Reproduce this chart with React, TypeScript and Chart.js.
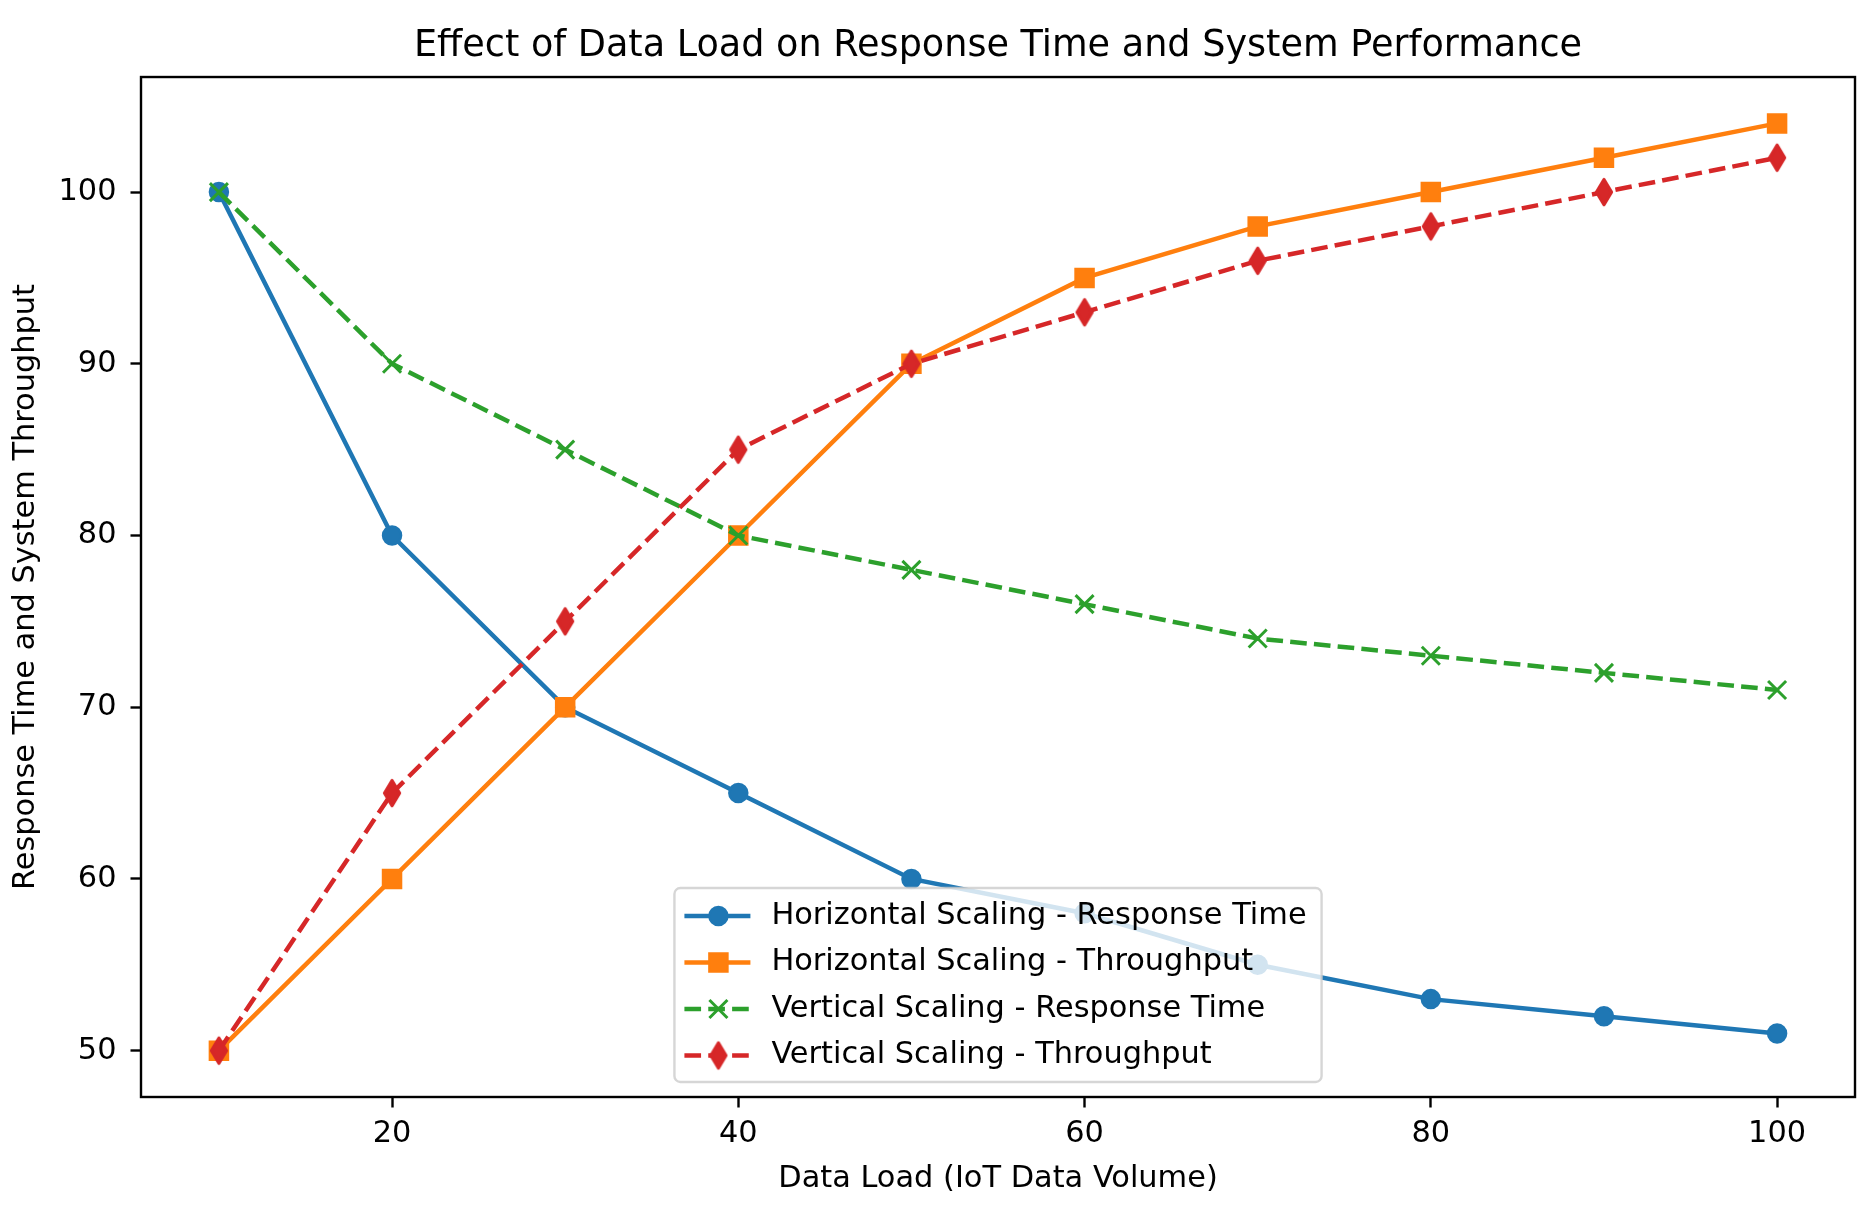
import React, { useEffect, useRef } from 'react';
import Chart from 'chart.js/auto';

// ---- data ----
const dataLoad = [10, 20, 30, 40, 50, 60, 70, 80, 90, 100];
const horizontalResponse = [100, 80, 70, 65, 60, 58, 55, 53, 52, 51];
const horizontalThroughput = [50, 60, 70, 80, 90, 95, 98, 100, 102, 104];
const verticalResponse = [100, 90, 85, 80, 78, 76, 74, 73, 72, 71];
const verticalThroughput = [50, 65, 75, 85, 90, 93, 96, 98, 100, 102];
const seriesLabels = [
  'Horizontal Scaling - Response Time',
  'Horizontal Scaling - Throughput',
  'Vertical Scaling - Response Time',
  'Vertical Scaling - Throughput',
];
const xTicks = [20, 40, 60, 80, 100];
const yTicks = [50, 60, 70, 80, 90, 100];
const titleText = 'Effect of Data Load on Response Time and System Performance';
const xTitle = 'Data Load (IoT Data Volume)';
const yTitle = 'Response Time and System Throughput';

const FAMILY = '"DejaVu Sans", Verdana, sans-serif';
const FS = 30.4;
const TITLE_FS = 36.6;
const DASH = [16.65, 7.2];

function makeThinDiamond(color: string) {
  const c = document.createElement('canvas');
  c.width = 26;
  c.height = 34;
  const g = c.getContext('2d')!;
  const cx = 13, cy = 17, hh = 12.73, hw = 7.64;
  g.beginPath();
  g.moveTo(cx, cy - hh);
  g.lineTo(cx + hw, cy);
  g.lineTo(cx, cy + hh);
  g.lineTo(cx - hw, cy);
  g.closePath();
  g.fillStyle = color;
  g.fill();
  g.lineWidth = 3;
  g.lineJoin = 'round';
  g.strokeStyle = color;
  g.stroke();
  return c;
}

function padRange(vals: number[]) {
  const mn = Math.min(...vals), mx = Math.max(...vals);
  const m = (mx - mn) * 0.05;
  return [mn - m, mx + m];
}

export default function App() {
  const ref = useRef<HTMLCanvasElement | null>(null);

  useEffect(() => {
    const canvas = ref.current;
    if (!canvas) return;
    const diamond = makeThinDiamond('#d62728');
    const styles: any[] = [
      { color: '#1f77b4', dash: [], marker: 'circle', radius: 9, bw: 2.5 },
      { color: '#ff7f0e', dash: [], marker: 'rect', radius: 12.73, bw: 2.5 },
      { color: '#2ca02c', dash: DASH, marker: 'crossRot', radius: 12.73, bw: 3 },
      { color: '#d62728', dash: DASH, marker: diamond, radius: 10, bw: 0 },
    ];
    const seriesValues = [horizontalResponse, horizontalThroughput, verticalResponse, verticalThroughput];

    const [xMin, xMax] = padRange(dataLoad);
    const [yMin, yMax] = padRange(seriesValues.flat());

    const drawMarker = (ctx: CanvasRenderingContext2D, st: any, x: number, y: number) => {
      ctx.save();
      ctx.setLineDash([]);
      ctx.fillStyle = st.color;
      ctx.strokeStyle = st.color;
      ctx.lineWidth = st.bw;
      if (st.marker === 'circle') {
        ctx.beginPath();
        ctx.arc(x, y, st.radius, 0, Math.PI * 2);
        ctx.fill();
        ctx.stroke();
      } else if (st.marker === 'rect') {
        const s = st.radius * Math.SQRT1_2;
        ctx.beginPath();
        ctx.rect(x - s, y - s, 2 * s, 2 * s);
        ctx.fill();
        ctx.stroke();
      } else if (st.marker === 'crossRot') {
        const s = st.radius * Math.SQRT1_2;
        ctx.beginPath();
        ctx.moveTo(x - s, y - s);
        ctx.lineTo(x + s, y + s);
        ctx.moveTo(x - s, y + s);
        ctx.lineTo(x + s, y - s);
        ctx.stroke();
      } else {
        const img = st.marker as HTMLCanvasElement;
        ctx.drawImage(img, x - img.width / 2, y - img.height / 2);
      }
      ctx.restore();
    };

    const framePlugin = {
      id: 'mplFrameLegend',
      afterDatasetsDraw(chart: any) {
        const ctx: CanvasRenderingContext2D = chart.ctx;
        const a = chart.chartArea;
        ctx.save();
        ctx.lineWidth = 2.4;
        ctx.strokeStyle = '#000';
        ctx.setLineDash([]);
        ctx.strokeRect(a.left, a.top, a.right - a.left, a.bottom - a.top);

        // legend
        ctx.font = `${FS}px ${FAMILY}`;
        const textW = Math.max(...seriesLabels.map((l) => ctx.measureText(l).width));
        const w = 97 + textW + 15;
        const h = 194;
        const cx = (a.left + a.right) / 2;
        const x = cx - w / 2;
        const y = a.bottom - 15 - h;
        ctx.beginPath();
        (ctx as any).roundRect(x, y, w, h, 6);
        ctx.fillStyle = 'rgba(255,255,255,0.8)';
        ctx.fill();
        ctx.lineWidth = 2.4;
        ctx.strokeStyle = 'rgba(204,204,204,0.8)';
        ctx.stroke();

        chart.data.datasets.forEach((ds: any, i: number) => {
          const st = styles[i];
          const ry = y + 28 + i * 46.5;
          ctx.save();
          ctx.strokeStyle = st.color;
          ctx.lineWidth = 4.5;
          ctx.lineCap = 'butt';
          ctx.setLineDash(st.dash);
          ctx.beginPath();
          ctx.moveTo(x + 10, ry);
          ctx.lineTo(x + 76, ry);
          ctx.stroke();
          ctx.restore();
          drawMarker(ctx, st, x + 44, ry);
          ctx.fillStyle = '#000';
          ctx.textAlign = 'left';
          ctx.textBaseline = 'middle';
          ctx.font = `${FS}px ${FAMILY}`;
          ctx.fillText(ds.label, x + 97, ry);
        });
        ctx.restore();
      },
    };

    const font = { family: FAMILY, size: FS, weight: 'normal' as const };

    const chart = new Chart(canvas, {
      type: 'line',
      data: {
        datasets: seriesValues.map((vals, i) => ({
          label: seriesLabels[i],
          data: vals.map((v, j) => ({ x: dataLoad[j], y: v })),
          borderColor: styles[i].color,
          backgroundColor: styles[i].color,
          borderWidth: 4.5,
          borderDash: styles[i].dash,
          borderCapStyle: 'butt',
          tension: 0,
          fill: false,
          pointStyle: styles[i].marker,
          pointRadius: styles[i].radius,
          pointBorderWidth: styles[i].bw,
          pointBackgroundColor: styles[i].color,
          pointBorderColor: styles[i].color,
          order: 3 - i,
        })) as any,
      },
      options: {
        responsive: false,
        animation: false,
        devicePixelRatio: 1,
        events: [],
        layout: { padding: { left: 0, right: 16, top: 0, bottom: 0 } },
        plugins: {
          legend: { display: false },
          tooltip: { enabled: false },
          title: {
            display: true,
            text: titleText,
            fullSize: false,
            color: '#000',
            font: { family: FAMILY, size: TITLE_FS, weight: 'normal' },
            padding: { top: 25, bottom: 8.1 },
          },
        },
        scales: {
          x: {
            type: 'linear',
            min: xMin,
            max: xMax,
            afterBuildTicks: (s: any) => {
              s.ticks = xTicks.map((v) => ({ value: v }));
            },
            afterFit: (s: any) => {
              s.height = 119;
            },
            grid: { drawOnChartArea: false, drawTicks: true, tickLength: 10.5, tickWidth: 2.4, tickColor: '#000', color: '#000' },
            border: { display: false },
            ticks: { color: '#000', font, padding: 8, maxRotation: 0, autoSkip: false },
            title: { display: true, text: xTitle, color: '#000', font, padding: { top: 0, bottom: 19 } },
          },
          y: {
            type: 'linear',
            min: yMin,
            max: yMax,
            afterBuildTicks: (s: any) => {
              s.ticks = yTicks.map((v) => ({ value: v }));
            },
            afterFit: (s: any) => {
              s.width = 141;
            },
            grid: { drawOnChartArea: false, drawTicks: true, tickLength: 10.5, tickWidth: 2.4, tickColor: '#000', color: '#000' },
            border: { display: false },
            ticks: { color: '#000', font, padding: 14, autoSkip: false },
            title: { display: true, text: yTitle, color: '#000', font, padding: { top: 8, bottom: 0 } },
          },
        },
      } as any,
      plugins: [framePlugin as any],
    });
    return () => chart.destroy();
  }, []);

  return (
    <div style={{ position: 'absolute', left: 0, top: 0, width: 1871, height: 1216, background: '#fff' }}>
      <canvas ref={ref} width={1871} height={1216} style={{ display: 'block', width: 1871, height: 1216 }} />
    </div>
  );
}
